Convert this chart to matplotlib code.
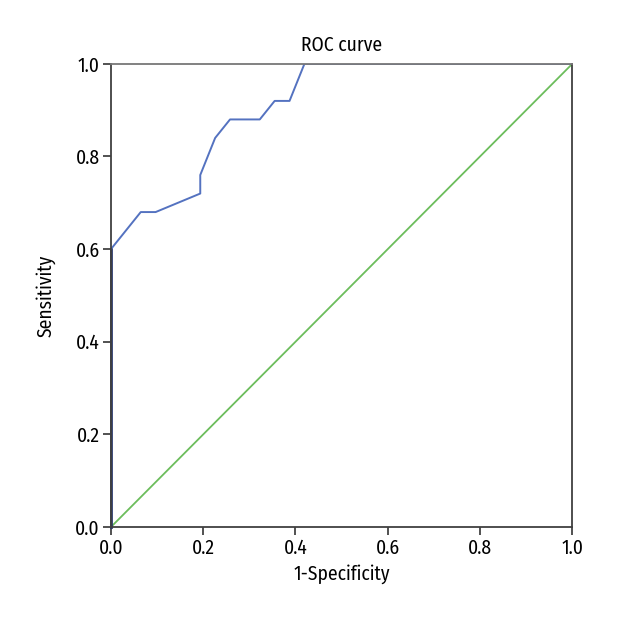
import matplotlib
matplotlib.use('Agg')
import matplotlib.pyplot as plt

# ROC curve points (1-specificity, sensitivity)
fpr = [0.0, 0.0, 2/31, 3/31, 6/31, 6/31, 7/31, 8/31, 10/31, 11/31, 12/31, 13/31, 1.0]
tpr = [0.0, 0.60, 0.68, 0.68, 0.72, 0.76, 0.84, 0.88, 0.88, 0.92, 0.92, 1.0, 1.0]
ref_x = [0.0, 1.0]
ref_y = [0.0, 1.0]
ticks = [0.0, 0.2, 0.4, 0.6, 0.8, 1.0]

plt.rcParams['font.family'] = ['Fira Sans Condensed', 'DejaVu Sans']

fig = plt.figure(figsize=(6.2, 6.2), dpi=100)
ax = fig.add_axes([0.179, 0.150, 0.744, 0.747])

ax.plot(ref_x, ref_y, color='#6cbd5c', lw=1.3)
ax.plot(fpr[:2], tpr[:2], color='#2b3a6e', lw=2, clip_on=False)
ax.plot(fpr[1:], tpr[1:], color='#5472c0', lw=1.4)

ax.set_xlim(0, 1)
ax.set_ylim(0, 1)
ax.set_xticks(ticks)
ax.set_yticks(ticks)
ax.set_xticklabels([f'{t:.1f}' for t in ticks])
ax.set_yticklabels([f'{t:.1f}' for t in ticks])
ax.tick_params(direction='out', length=6, width=1.2, color='#333333', labelsize=14, pad=2)

for s in ax.spines.values():
    s.set_color('#404040')
    s.set_linewidth(1.3)
ax.spines['top'].set_color('#777777')

ax.set_title('ROC curve', fontsize=14, pad=9)
ax.set_xlabel('1-Specificity', fontsize=14, labelpad=5)
ax.set_ylabel('Sensitivity', fontsize=14, labelpad=14)

fig.savefig('out.png', dpi=100)
